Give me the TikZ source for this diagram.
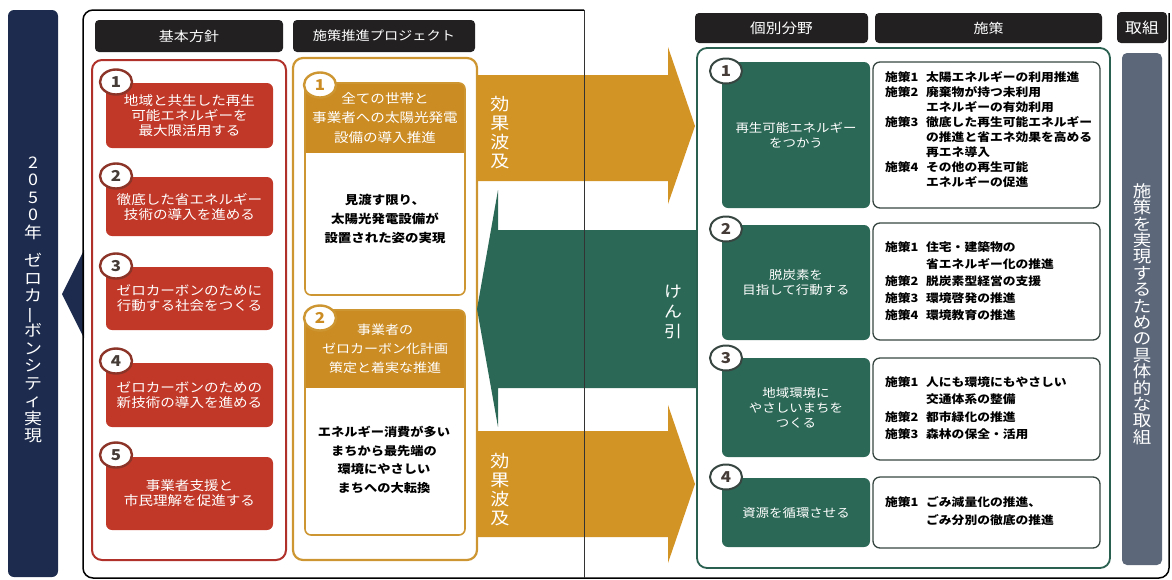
\documentclass[tikz,border=0pt]{standalone}
\usepackage{fontspec}
\setmainfont{Noto Sans CJK JP}[FakeStretch=1.12]
\usetikzlibrary{shapes.geometric}
\definecolor{navyc}{RGB}{29,44,78}
\definecolor{hdrc}{RGB}{34,32,33}
\definecolor{redc}{RGB}{193,56,40}
\definecolor{redline}{RGB}{176,48,42}
\definecolor{redcirc}{RGB}{140,52,40}
\definecolor{goldc}{RGB}{211,148,38}
\definecolor{goldhd}{RGB}{203,140,36}
\definecolor{goldline}{RGB}{205,150,50}
\definecolor{greenc}{RGB}{44,104,86}
\definecolor{greenline}{RGB}{42,96,80}
\definecolor{slatec}{RGB}{92,104,122}
\definecolor{boxline}{RGB}{55,70,65}
\definecolor{numc}{RGB}{70,60,55}
\newcommand\myfs[2]{\fontsize{#1}{#2}\selectfont\lineskiplimit=-20pt\relax}
\newcommand\sk[1]{\makebox[41pt][l]{#1}}
\newcommand\skk{\hspace*{41pt}}
\newcommand\vbar{\rotatebox[origin=c]{90}{ー}}
\begin{document}
\begin{tikzpicture}[x=1pt,y=-1pt,
  hdr/.style={fill=hdrc, rounded corners=4, text=white, inner sep=0, outer sep=0},
  panel/.style={rounded corners=10, inner sep=0, outer sep=0},
  redbox/.style={fill=redc, rounded corners=6, text=white, align=center, inner sep=0, outer sep=0, minimum width=167, font=\myfs{13}{15}},
  greenbox/.style={fill=greenc, rounded corners=6, text=white, align=center, inner sep=0, outer sep=0, minimum width=148, font=\myfs{12}{15}},
  sbox/.style={draw=boxline, fill=white, line width=1.3, rounded corners=7, inner sep=0, outer sep=0, minimum width=227},
  stext/.style={anchor=west, align=left, inner sep=0, text=black},
  numr/.style={ellipse, draw=redcirc, fill=white, line width=2.4, minimum width=32, minimum height=25, inner sep=0, text=numc, font=\myfs{15}{15}\bfseries},
  numg/.style={numr, draw=goldline, text=goldhd},
  numgr/.style={numr, draw=boxline, line width=2, text=numc},
  vtext/.style={text=white, align=center, inner sep=0}
]
\useasboundingbox (0,0) rectangle (1172,579);

% left navy bar
\node[panel, fill=navyc, rounded corners=6, minimum width=50, minimum height=567] (navy) at (33,293.5) {};
\node[vtext, font=\myfs{16}{17.5}] (navyt) at (33,300) {2\\0\\5\\0\\年\\[11pt]ゼ\\ロ\\カ\\\vbar\\ボ\\ン\\シ\\テ\\ィ\\実\\現};
\coordinate (tip) at (62,294);
\fill[navyc] (tip) -- (84,250) -- (84,338) -- cycle;

% book frame (open book: left page top edge, spine, outer edges)
\draw[line width=1.5, rounded corners=10] (584,10) -- (83,10) -- (83,578) -- (1169,578) -- (1169,13);

% headers
\node[hdr, minimum width=188, minimum height=32, font=\myfs{13.4}{14}] (h1) at (189,36) {基本方針};
\node[hdr, minimum width=182, minimum height=32, font=\myfs{12.7}{14}] (h2) at (384,36) {施策推進プロジェクト};
\node[hdr, minimum width=173, minimum height=30, font=\myfs{14}{14}] (h3) at (781.5,28) {個別分野};
\node[hdr, minimum width=227, minimum height=30, font=\myfs{13.4}{14}] (h4) at (988.5,28) {施策};
\node[hdr, minimum width=50, minimum height=31, font=\myfs{15}{15}] (h5) at (1142,27.5) {取組};

% red panel
\node[panel, draw=redline, line width=2, minimum width=194, minimum height=500] (rp) at (189,310) {};
\node[redbox, minimum height=65] (r1) at (189.5,115.5) {地域と共生した再生\\可能エネルギーを\\最大限活用する};
\node[redbox, minimum height=59] (r2) at (189.5,206.5) {徹底した省エネルギー\\技術の導入を進める};
\node[redbox, minimum height=63] (r3) at (189.5,298.5) {ゼロカーボンのために\\行動する社会をつくる};
\node[redbox, minimum height=64] (r4) at (189.5,395) {ゼロカーボンのための\\新技術の導入を進める};
\node[redbox, minimum height=73] (r5) at (189.5,493.5) {事業者支援と\\市民理解を促進する};
\node[numr] (c1) at (116,82) {1};
\node[numr] (c2) at (116,176) {2};
\node[numr] (c3) at (116,266) {3};
\node[numr] (c4) at (116,361) {4};
\node[numr] (c5) at (116,455) {5};

% gold panel
\node[panel, draw=goldline, line width=2.2, minimum width=184, minimum height=502] (yp) at (385,309) {};
\begin{scope}
  \clip[rounded corners=6] (305,83) rectangle (465,295);
  \fill[white] (305,83) rectangle (465,295);
  \fill[goldhd] (305,83) rectangle (465,153);
\end{scope}
\draw[goldline, line width=1.6, rounded corners=6] (305,83) rectangle (465,295);
\begin{scope}
  \clip[rounded corners=6] (305,310) rectangle (465,535);
  \fill[white] (305,310) rectangle (465,535);
  \fill[goldhd] (305,310) rectangle (465,388);
\end{scope}
\draw[goldline, line width=1.6, rounded corners=6] (305,310) rectangle (465,535);
\node[vtext, font=\myfs{13}{19.5}] (p1h) at (385,118) {全ての世帯と\\事業者への太陽光発電\\設備の導入推進};
\node[align=center, inner sep=0, text=black, font=\myfs{12}{19}\bfseries] (p1b) at (385,219) {見渡す限り、\\太陽光発電設備が\\設置された姿の実現};
\node[vtext, font=\myfs{12.5}{19}] (p2h) at (385,349) {事業者の\\ゼロカーボン化計画\\策定と着実な推進};
\node[align=center, inner sep=0, text=black, font=\myfs{11.8}{18.5}\bfseries] (p2b) at (384,460) {エネルギー消費が多い\\まちから最先端の\\環境にやさしい\\まちへの大転換};
\node[numg] (pc1) at (320,85) {1};
\node[numg] (pc2) at (320,318) {2};

% arrows
\fill[goldc] (477,75) -- (668,75) -- (668,47) -- (695,126) -- (668,204) -- (668,181) -- (477,181) -- cycle;
\fill[goldc] (477,431) -- (668,431) -- (668,405) -- (695,484) -- (668,563) -- (668,537) -- (477,537) -- cycle;
\fill[greenc] (697,230) -- (498,230) -- (498,190) -- (477,309) -- (498,427) -- (498,388) -- (697,388) -- cycle;
\draw[line width=0.8, black!80] (584,10) -- (584,578);
\node[vtext, font=\myfs{17}{19}] (k1) at (500,133) {効\\果\\波\\及};
\node[vtext, font=\myfs{17}{19}] (k2) at (500,490) {効\\果\\波\\及};
\node[vtext, font=\myfs{16}{20}] (k3) at (673,312) {け\\ん\\引};

% green panel
\node[panel, draw=greenline, line width=1.8, minimum width=413, minimum height=520] (gp) at (903.5,308) {};
\node[greenbox, minimum height=146] (g1) at (796,135) {再生可能エネルギー\\をつかう};
\node[greenbox, minimum height=115] (g2) at (796,282.5) {脱炭素を\\目指して行動する};
\node[greenbox, minimum height=99] (g3) at (796,407.5) {地域環境に\\やさしいまちを\\つくる};
\node[greenbox, minimum height=69] (g4) at (796,512.5) {資源を循環させる};
\node[numgr] (gc1) at (726,71) {1};
\node[numgr] (gc2) at (726,229) {2};
\node[numgr] (gc3) at (726,358) {3};
\node[numgr] (gc4) at (726,477) {4};

\node[sbox, minimum height=146] (s1) at (986.5,135) {};
\node[sbox, minimum height=117] (s2) at (986.5,281.5) {};
\node[sbox, minimum height=102] (s3) at (986.5,409) {};
\node[sbox, minimum height=71] (s4) at (986.5,512.5) {};
\node[stext, font=\myfs{11.4}{15}\bfseries] (st1) at (885,129.5) {\sk{施策1}太陽エネルギーの利用推進\\\sk{施策2}廃棄物が持つ未利用\\\skk エネルギーの有効利用\\\sk{施策3}徹底した再生可能エネルギー\\\skk の推進と省エネ効果を高める\\\skk 再エネ導入\\\sk{施策4}その他の再生可能\\\skk エネルギーの促進};
\node[stext, font=\myfs{11.4}{17}\bfseries] (st2) at (885,281) {\sk{施策1}住宅・建築物の\\\skk 省エネルギー化の推進\\\sk{施策2}脱炭素型経営の支援\\\sk{施策3}環境啓発の推進\\\sk{施策4}環境教育の推進};
\node[stext, font=\myfs{11.4}{17.3}\bfseries] (st3) at (885,408) {\sk{施策1}人にも環境にもやさしい\\\skk 交通体系の整備\\\sk{施策2}都市緑化の推進\\\sk{施策3}森林の保全・活用};
\node[stext, font=\myfs{11.4}{18}\bfseries] (st4) at (885,511) {\sk{施策1}ごみ減量化の推進、\\\skk ごみ分別の徹底の推進};

% slate bar
\node[panel, fill=slatec, rounded corners=5, minimum width=40, minimum height=512] (sl) at (1142,309) {};
\node[vtext, font=\myfs{16.5}{16.4}] (slt) at (1142,314) {施\\策\\を\\実\\現\\す\\る\\た\\め\\の\\具\\体\\的\\な\\取\\組};
\end{tikzpicture}
\end{document}
